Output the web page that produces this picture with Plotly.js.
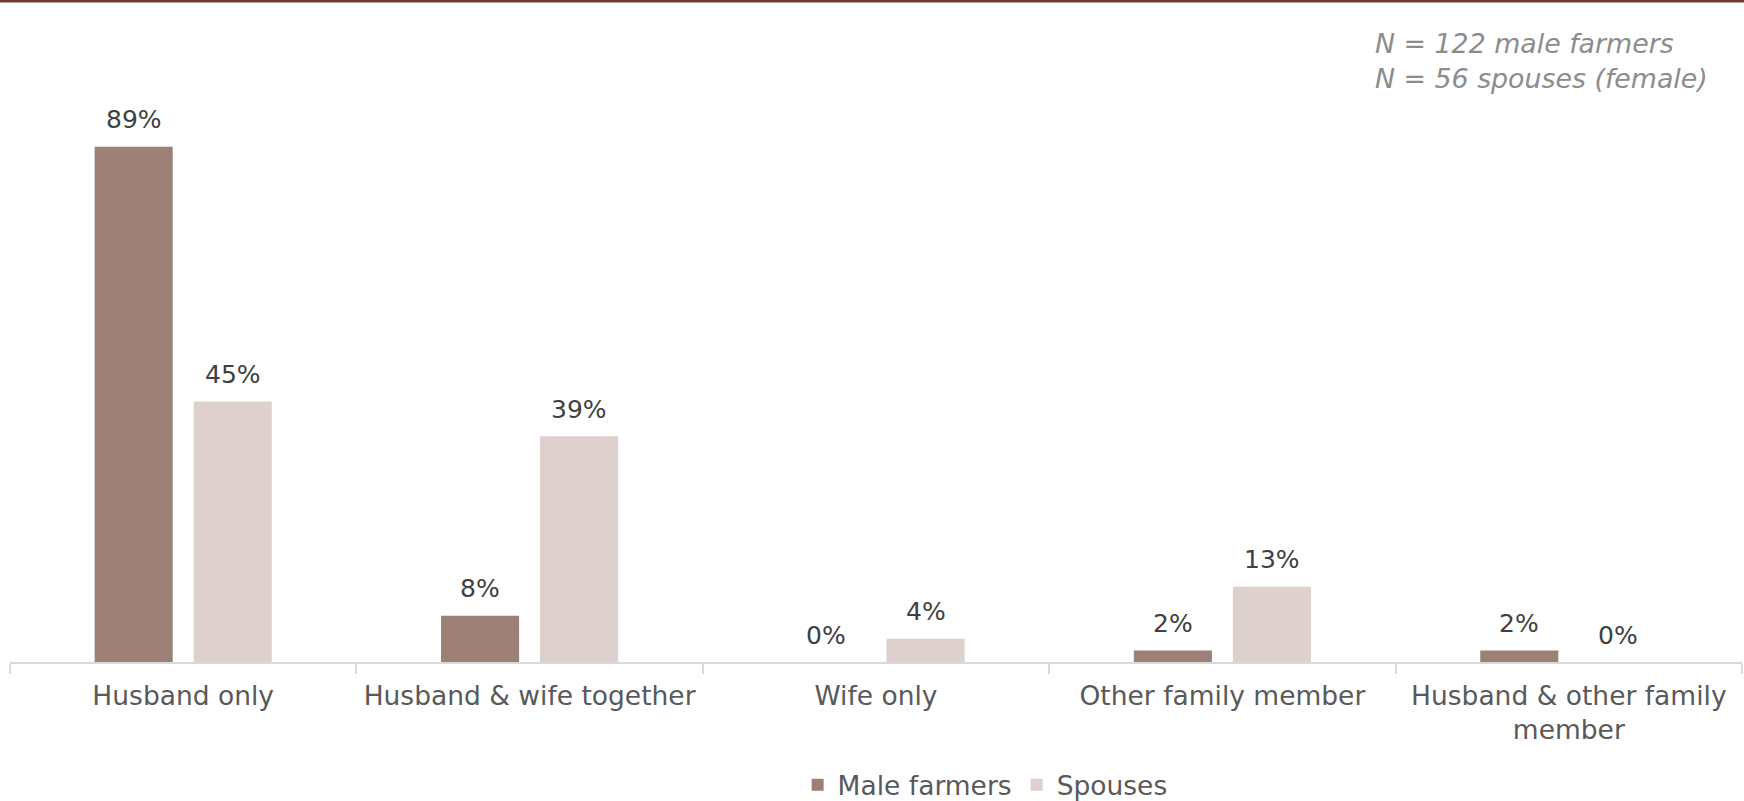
<!DOCTYPE html>
<html>
<head>
<meta charset="utf-8">
<script src="https://cdn.plot.ly/plotly-3.0.1.min.js"></script>
<style>html,body{margin:0;padding:0;background:#fff;}#chart{width:1744px;height:801px;}</style>
</head>
<body>
<div id="chart"></div>
<script>
const categories = ["Husband only", "Husband & wife together", "Wife only", "Other family member", "Husband & other family<br>member"];
const maleFarmers = [89, 8, 0, 2, 2];
const spouses = [45, 39, 4, 13, 0];
const seriesNames = ["Male farmers", "Spouses"];
const noteLines = ["N = 122 male farmers", "N = 56 spouses (female)"];

const FONT = "DejaVu Sans, sans-serif";
const W = 1744, H = 801;
const margin = {l: 10, r: 2, t: 83, b: 139, autoexpand: false};
const bargap = 0.428, bargroupgap = 0.212;

const seriesValues = [maleFarmers, spouses];
const seriesColors = ["#9c7f76", "#ddd0cd"];

const traces = seriesValues.map((vals, i) => ({
  type: "bar", name: seriesNames[i], x: categories, y: vals,
  marker: {color: seriesColors[i]}, hoverinfo: "skip"
}));

// value labels placed over each bar through the axes' own scales
const plotW = W - margin.l - margin.r;
const slot = plotW / categories.length * (1 - bargap) / seriesValues.length;
const annotations = [];
seriesValues.forEach((vals, i) => {
  const shift = (i - (seriesValues.length - 1) / 2) * slot;
  vals.forEach((v, j) => {
    annotations.push({
      xref: "x", yref: "y", x: categories[j], y: v, xshift: shift, yshift: 27,
      xanchor: "center", yanchor: "middle", showarrow: false,
      text: v + "%", font: {family: FONT, size: 25, color: "#404040"}
    });
  });
});
annotations.push({
  xref: "paper", yref: "paper", x: 0.9815, y: 1.038, xanchor: "right", yanchor: "middle",
  align: "left", showarrow: false,
  text: "<i>" + noteLines.join("<br>") + "</i>",
  font: {family: FONT, size: 26.8, color: "#8c8c8c"}
});

const layout = {
  width: W, height: H, margin: margin,
  paper_bgcolor: "#fff", plot_bgcolor: "#fff",
  barmode: "group", bargap: bargap, bargroupgap: bargroupgap,
  font: {family: FONT, color: "#595959", size: 26.5},
  xaxis: {
    type: "category", showline: true, linecolor: "#d9d9d9", linewidth: 2,
    ticks: "outside", tickson: "boundaries", ticklen: 10, tickcolor: "#d9d9d9", tickwidth: 2,
    ticklabelstandoff: 9,
    tickfont: {family: FONT, size: 26.5, color: "#595959"}, showgrid: false, zeroline: false, fixedrange: true
  },
  yaxis: {range: [0, 100], visible: false, showgrid: false, zeroline: false, fixedrange: true},
  showlegend: true,
  legend: {orientation: "h", x: 0.563, xanchor: "center", y: -0.2124, yanchor: "middle",
    font: {family: FONT, size: 26.5, color: "#595959"}, itemclick: false, itemdoubleclick: false},
  annotations: annotations,
  shapes: [{type: "line", xref: "paper", yref: "paper", x0: -0.01, x1: 1.01, y0: 1.1416, y1: 1.1416,
    line: {color: "#6b3f30", width: 3}}]
};

Plotly.newPlot("chart", traces, layout, {displayModeBar: false, staticPlot: true});
</script>
</body>
</html>
